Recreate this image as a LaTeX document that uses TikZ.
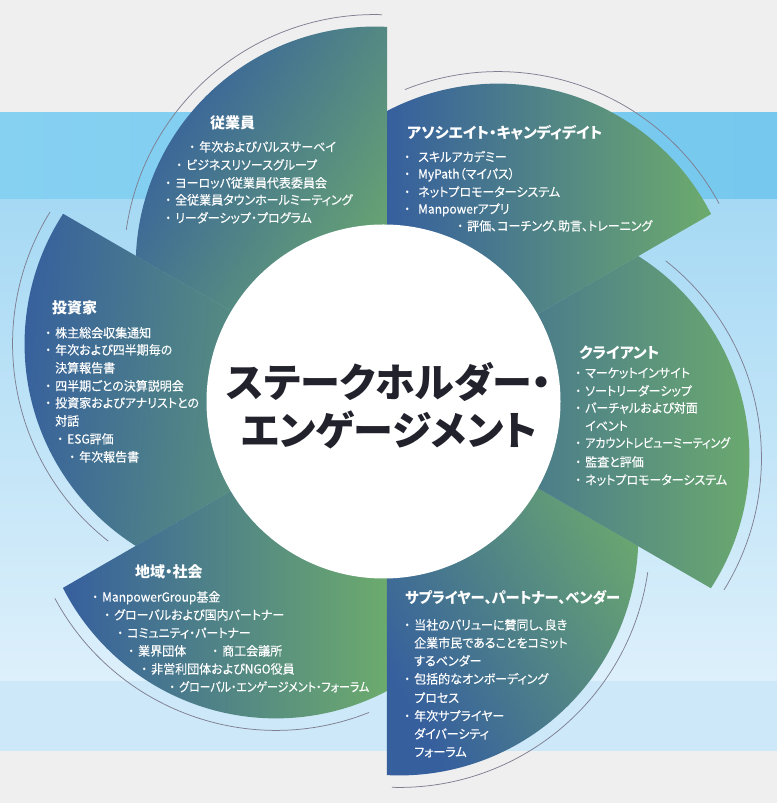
\documentclass[tikz,border=0pt]{standalone}
\usepackage{fontspec}
\usepackage{graphicx}
\setmainfont{Noto Sans CJK JP}[RawFeature=+palt]
\newfontfamily\bodyfont{Noto Sans CJK JP}[RawFeature=+palt, FakeBold=0.3, FakeStretch=0.96]
\usetikzlibrary{calc}
\definecolor{bggray}{HTML}{EFEFEF}
\definecolor{bandtopL}{HTML}{86D1F2}
\definecolor{bandtopR}{HTML}{76C8EE}
\definecolor{bandhi}{HTML}{A6D9F4}
\definecolor{bandlo}{HTML}{DDF0FB}
\definecolor{bandlow}{HTML}{CDE8F8}
\definecolor{bblue}{HTML}{365F9E}
\definecolor{bgreen}{HTML}{6CAB6D}
\definecolor{thinline}{HTML}{7F7F92}
\definecolor{centertxt}{HTML}{22222C}
\newcommand\bu{\makebox[14pt][c]{・}}
\newcommand\bub{\makebox[22pt][c]{・}}
\newcommand\sq[1]{\scalebox{0.91}[1]{#1}}
\tikzset{
  ln/.style={anchor=base west, inner sep=0pt, text=white, font=\bodyfont\fontsize{12.5}{15}\selectfont},
  hd/.style={anchor=base west, inner sep=0pt, text=white, font=\bfseries\fontsize{15}{18}\selectfont},
  ctr/.style={anchor=base, inner sep=0pt, text=centertxt, font=\bfseries\fontsize{40}{48}\selectfont},
  thinarc/.style={draw=thinline, line width=0.75pt},
}
\newcommand\Ln[4]{\node[ln] (#1) at (#2,{803-#3-4.6}) {#4};}
\newcommand\Hd[4]{\node[hd] (#1) at (#2,{803-#3-5.6}) {#4};}
\begin{document}
\begin{tikzpicture}[x=1pt,y=1pt]
\useasboundingbox (0,0) rectangle (777,803);
% background
\fill[bggray] (0,0) rectangle (777,803);
\shade[left color=bandtopL, right color=bandtopR] (0,603) rectangle (777,690);
\shade[top color=bandhi, bottom color=bandlo] (0,122) rectangle (777,603);
\fill[bandlow] (0,52) rectangle (777,122);
\coordinate (C) at (387,402);
% thin arcs
\foreach \t in {90,150,210,270,330,30}{
  \draw[thinarc] ($(C)+({\t+5.2}:136)+({\t-1.7}:251)$) arc[start angle={\t-1.7}, end angle={\t+81.8}, radius=251];
}
% blades
\foreach \t/\a in {90/60,150/85,210/90,270/120,330/90,30/90}{
  \shade[left color=bblue, right color=bgreen, shading angle=\a]
    ($(C)+({\t+5.2}:136)+({\t-3}:239)$) arc[start angle={\t-3}, end angle={\t+87.7}, radius=239] -- (C) -- cycle;
}
% centre disc
\node[circle, fill=white, minimum size=354pt, inner sep=0pt] (disc) at (383.5,401.5) {};
\node[ctr] (t1) at (389,{803-382-15.2}) {ステークホルダー・};
\node[ctr] (t2) at (389,{803-430-15.2}) {エンゲージメント};
% 従業員
\Hd{h1}{210}{123}{従業員}
\Ln{e1}{185}{147}{\bu 年次およびパルスサーベイ}
\Ln{e2}{172}{165}{\bu ビジネスリソースグループ}
\Ln{e3}{161}{183}{\bu ヨーロッパ従業員代表委員会}
\Ln{e4}{161}{200}{\bu 全従業員タウンホールミーティング}
\Ln{e5}{161}{218}{\bu リーダーシップ・プログラム}
% アソシエイト
\Hd{h6}{407}{133}{アソシエイト・キャンディデイト}
\Ln{a1}{396}{157}{\bub スキルアカデミー}
\Ln{a2}{396}{174}{\bub MyPath（マイパス）}
\Ln{a3}{396}{192}{\bub ネットプロモーターシステム}
\Ln{a4}{396}{209}{\bub Manpowerアプリ}
\Ln{a5}{453}{226}{\bu 評価、コーチング、助言、トレーニング}
% 投資家
\Hd{h2}{52}{308}{投資家}
\Ln{i1}{41}{333}{\bu 株主総会収集通知}
\Ln{i2}{41}{350}{\bu 年次および四半期毎の}
\Ln{i3}{55}{368}{決算報告書}
\Ln{i4}{41}{386}{\bu 四半期ごとの決算説明会}
\Ln{i5}{41}{403}{\bu 投資家およびアナリストとの}
\Ln{i6}{55}{421}{対話}
\Ln{i7}{53}{439}{\bu ESG評価}
\Ln{i8}{65}{457}{\bu 年次報告書}
% クライアント
\Hd{h5}{579}{353}{クライアント}
\Ln{c1}{571}{373}{\bu マーケットインサイト}
\Ln{c2}{571}{391}{\bu ソートリーダーシップ}
\Ln{c3}{571}{408}{\bu バーチャルおよび対面}
\Ln{c4}{585}{426}{イベント}
\Ln{c5}{571}{443}{\bu \sq{アカウントレビューミーティング}}
\Ln{c6}{571}{462}{\bu 監査と評価}
\Ln{c7}{571}{480}{\bu ネットプロモーターシステム}
% 地域・社会
\Hd{h3}{135}{572}{地域・社会}
\Ln{s1}{88}{597}{\bu ManpowerGroup基金}
\Ln{s2}{100}{615}{\bu グローバルおよび国内パートナー}
\Ln{s3}{113}{633}{\bu コミュニティ・パートナー}
\Ln{s4}{124}{651}{\bu 業界団体}
\Ln{s4b}{208}{651}{\bu 商工会議所}
\Ln{s5}{137}{669}{\bu 非営利団体およびNGO役員}
\Ln{s6}{165}{687}{\bu \sq{グローバル・エンゲージメント・フォーラム}}
% サプライヤー
\Hd{h4}{405}{598}{\scalebox{0.95}[1]{サプライヤー、パートナー、ベンダー}}
\Ln{p1}{400}{625}{\bu 当社のバリューに賛同し、良き}
\Ln{p2}{414}{643}{企業市民であることをコミット}
\Ln{p3}{414}{661}{するベンダー}
\Ln{p4}{400}{679}{\bu 包括的なオンボーディング}
\Ln{p5}{414}{698}{プロセス}
\Ln{p6}{400}{716}{\bu 年次サプライヤー}
\Ln{p7}{414}{734}{ダイバーシティ}
\Ln{p8}{414}{752}{フォーラム}
\end{tikzpicture}
\end{document}
